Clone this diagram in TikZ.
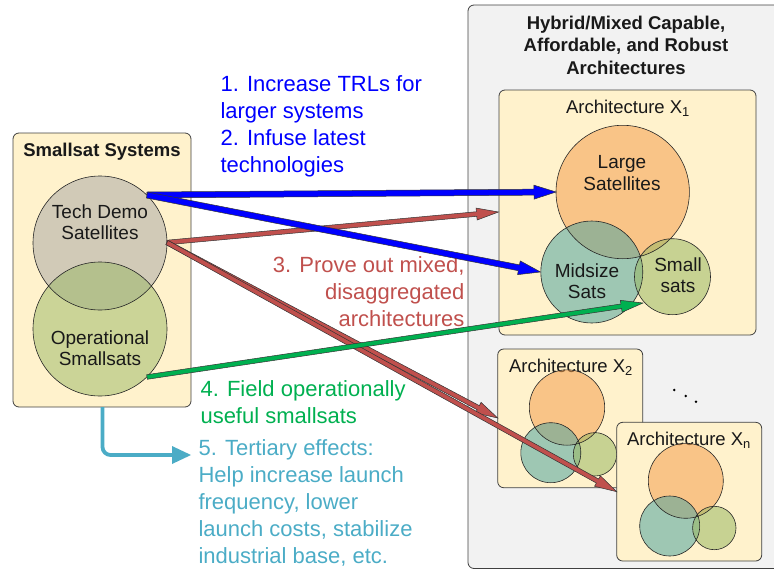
\documentclass[tikz,border=0pt]{standalone}
\usepackage{fontspec}
\setmainfont{Liberation Sans}
\usetikzlibrary{calc}

\definecolor{paleyellow}{RGB}{255,242,204}
\definecolor{panelgray}{RGB}{242,242,242}
\definecolor{edgegray}{RGB}{64,64,64}
\definecolor{techgray}{RGB}{165,164,164}
\definecolor{opgreen}{RGB}{153,184,100}
\definecolor{largeorange}{RGB}{245,160,80}
\definecolor{midteal}{RGB}{80,165,160}
\definecolor{txtblue}{RGB}{0,0,255}
\definecolor{txtred}{RGB}{192,80,77}
\definecolor{txtgreen}{RGB}{0,176,80}
\definecolor{txtcyan}{RGB}{75,172,198}
\definecolor{arrowred}{RGB}{192,80,77}

\tikzset{
  panel/.style={draw=edgegray, line width=0.8pt, rounded corners=6pt},
  bodytext/.style={font=\fontsize{19}{21.5}\selectfont, align=center, text=black!90},
  boldtitle/.style={font=\bfseries\fontsize{18.5}{22.5}\selectfont, align=center, text=black!90},
  archlabel/.style={font=\fontsize{18.5}{20}\selectfont, text=black!90},
  bigtext/.style={font=\fontsize{22}{27}\selectfont},
}

% block arrow: colour, from, to, half shaft width, half head width, head length
\newcommand{\blockarrow}[6]{%
  \coordinate (ba-h) at ($(#3)!#6!(#2)$);
  \filldraw[fill=#1, draw=black!80, line width=0.5pt, line join=miter]
    ($(#2)!#4!90:(#3)$) -- ($(ba-h)!#4!90:(#3)$) -- ($(ba-h)!#5!90:(#3)$)
    -- (#3) -- ($(ba-h)!#5!-90:(#3)$) -- ($(ba-h)!#4!-90:(#3)$)
    -- ($(#2)!#4!-90:(#3)$) -- cycle;
}

\begin{document}
\begin{tikzpicture}[x=1pt,y=-1pt]
\useasboundingbox (0,0) rectangle (774,568);

% ---------- right panel: architectures ----------
\begin{scope}
\clip (0,0) rectangle (774,568);
\draw[panel, fill=panelgray] (468,5) rectangle (800,568.5);
\end{scope}
\node[boldtitle] (archtitle) at (626,45) {Hybrid/Mixed Capable,\\Affordable, and Robust\\Architectures};

% Architecture X1
\draw[panel, fill=paleyellow] (499,90) rectangle (756,335);
\node[archlabel] (x1label) at (628,108) {Architecture X\textsubscript{1}};
\fill[largeorange, fill opacity=0.55] (622.7,192) circle (66.7);
\fill[midteal, fill opacity=0.55] (591.8,272) circle (51);
\fill[opgreen, fill opacity=0.55] (672.5,276.7) circle (38);
\draw[black!85, line width=0.6pt] (622.7,192) circle (66.7) (591.8,272) circle (51) (672.5,276.7) circle (38);
\node[bodytext] (largetext) at (622,173) {Large\\Satellites};
\node[bodytext] (midtext) at (587,281) {Midsize\\Sats};
\node[bodytext] (smalltext) at (678,275) {Small\\sats};

% Architecture X2
\draw[panel, fill=paleyellow] (497.7,349) rectangle (642.7,487.7);
\node[archlabel] (x2label) at (571,367) {Architecture X\textsubscript{2}};
\fill[largeorange, fill opacity=0.55] (567,407.5) circle (37.7);
\fill[midteal, fill opacity=0.55] (550.8,452.7) circle (30);
\fill[opgreen, fill opacity=0.55] (595,454.3) circle (21.7);
\draw[black!85, line width=0.6pt] (567,407.5) circle (37.7) (550.8,452.7) circle (30) (595,454.3) circle (21.7);

% continuation dots
\fill[black] (674.3,390) circle (1.4) (685.7,396) circle (1.4) (696,401.7) circle (1.4);

% Architecture Xn
\draw[panel, fill=paleyellow] (616.7,422.3) rectangle (761.7,561);
\node[archlabel] (xnlabel) at (689,440) {Architecture X\textsubscript{n}};
\fill[largeorange, fill opacity=0.55] (685.8,480.8) circle (37.5);
\fill[midteal, fill opacity=0.55] (669.7,526) circle (30);
\fill[opgreen, fill opacity=0.55] (714.3,528) circle (21.7);
\draw[black!85, line width=0.6pt] (685.8,480.8) circle (37.5) (669.7,526) circle (30) (714.3,528) circle (21.7);

% ---------- left panel: smallsat systems ----------
\draw[panel, fill=paleyellow] (13,133) rectangle (191,407);
\node[boldtitle] (smalltitle) at (102,152) {Smallsat Systems};
\fill[techgray, fill opacity=0.5] (100,243) circle (67);
\fill[opgreen, fill opacity=0.5] (100,329) circle (67);
\draw[black!85, line width=0.6pt] (100,243) circle (67) (100,329) circle (67);
\node[bodytext] (techtext) at (100,222) {Tech Demo\\Satellites};
\node[bodytext] (optext) at (100,348) {Operational\\Smallsats};

% ---------- effect labels ----------
\node[bigtext, text=txtblue, align=left, anchor=north west] (lbl12) at (217,72) {1. Increase TRLs for\\larger systems\\2. Infuse latest\\technologies};
\node[bigtext, text=txtred, align=right, anchor=north east] (lbl3) at (468,253) {3. Prove out mixed,\\disaggregated\\architectures};
\node[bigtext, text=txtgreen, align=left, anchor=north west] (lbl4) at (197,377) {4. Field operationally\\useful smallsats};
\node[bigtext, text=txtcyan, align=left, anchor=north west] (lbl5) at (195,436) {5. Tertiary effects:\\Help increase launch\\frequency, lower\\launch costs, stabilize\\industrial base, etc.};

% ---------- connector end points ----------
\coordinate (techB) at (147,195);
\coordinate (techR) at (167,242.5);
\coordinate (opR) at (147,377);
\coordinate (largeL) at (556,192);
\coordinate (midL) at (540.5,272);
\coordinate (x1L) at (498.5,212);
\coordinate (x2L) at (497.7,418);
\coordinate (xnL) at (616.7,491.7);
\coordinate (smallL) at (643,303);
\coordinate (boxbottom) at (102.5,407);
\coordinate (lbl5tip) at (191,455);

% ---------- arrows ----------
\blockarrow{arrowred}{techR}{x1L}{2.3pt}{6pt}{22pt}
\blockarrow{arrowred}{techR}{x2L}{2.3pt}{6pt}{22pt}
\blockarrow{arrowred}{techR}{xnL}{2.3pt}{6pt}{22pt}
\blockarrow{txtblue}{techB}{largeL}{3pt}{7pt}{22pt}
\blockarrow{txtblue}{techB}{midL}{3pt}{7pt}{22pt}
\blockarrow{txtgreen}{opR}{smallL}{2.3pt}{6pt}{22pt}

% tertiary effects connector
\draw[txtcyan, line width=3.8pt, rounded corners=8pt] (boxbottom) |- ($(lbl5tip)+(-15,0)$);
\fill[txtcyan] (lbl5tip) -- ++(-19,-9) -- ++(0,18) -- cycle;
\end{tikzpicture}
\end{document}
